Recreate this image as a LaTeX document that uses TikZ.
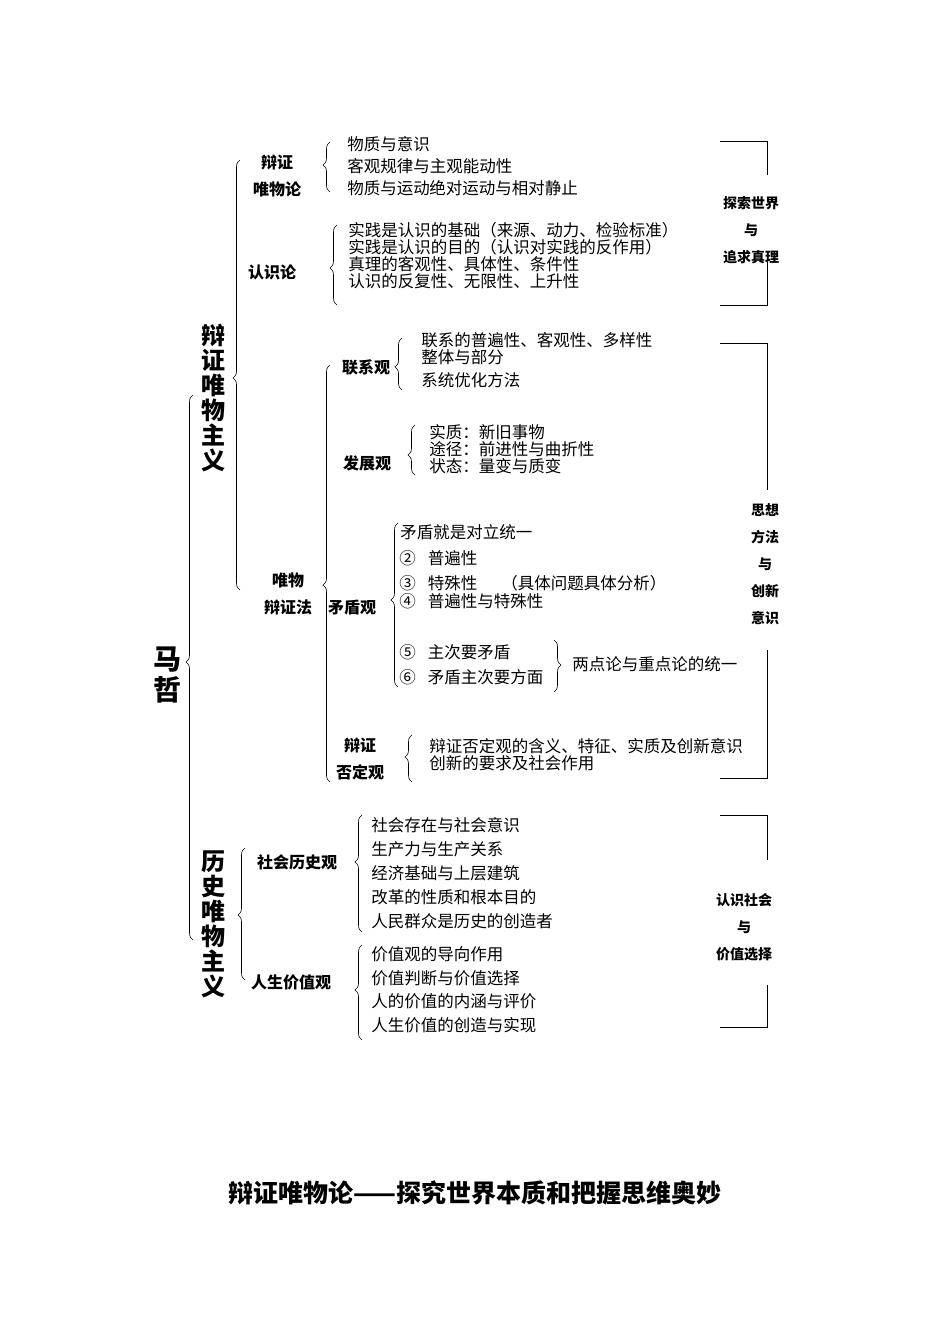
\documentclass[tikz,border=0pt]{standalone}
\usepackage{fontspec}
\setmainfont{Noto Sans CJK SC}
\usetikzlibrary{decorations.pathreplacing}
\newcommand{\LB}[4]{% x, top, bottom, tip
  \pgfmathsetmacro{\asp}{(#3-#4)/(#3-#2)}
  \draw[decorate,decoration={brace,amplitude=7pt,aspect=\asp}] (#1,#3) -- (#1,#2);}
\newcommand{\RB}[4]{%
  \pgfmathsetmacro{\asp}{(#4-#2)/(#3-#2)}
  \draw[decorate,decoration={brace,amplitude=7pt,aspect=\asp}] (#1,#2) -- (#1,#3);}
\tikzset{
 it/.style={anchor=west,inner sep=0pt,font=\fontsize{16.5}{17}\selectfont},
 hd/.style={inner sep=0pt,align=center,font=\fontsize{16}{27}\selectfont\bfseries},
 big/.style={inner sep=0pt,align=center,font=\fontsize{24}{25}\selectfont\bfseries},
 side/.style={inner sep=0pt,align=center,font=\fontsize{14}{27}\selectfont\bfseries},
 br/.style={line width=0.9pt}
}
\begin{document}
\begin{tikzpicture}[x=1pt,y=-1pt,line width=0.6pt]
\useasboundingbox (0,0) rectangle (950,1344);
\node[font=\fontsize{28}{31}\selectfont\bfseries,align=center,inner sep=0pt] (mz) at (167,675) {马\\哲};
\LB{193}{395}{940}{662}
\node[big] (bz) at (213,398) {辩\\证\\唯\\物\\主\\义};
\LB{240}{160}{590}{378}
\node[big] (ls) at (213,924) {历\\史\\唯\\物\\主\\义};
\LB{245}{848}{980}{915}
% 辩证唯物论
\node[hd] (bzw) at (277,176) {辩证\\唯物论};
\LB{330}{142}{192}{165}
\node[it] (a1) at (347,144) {物质与意识};
\node[it] (a2) at (347,166) {客观规律与主观能动性};
\node[it] (a3) at (347,188) {物质与运动};
\node[it] (a4) at (429,188) {绝对运动与相对静止};
% 认识论
\node[hd] (rsl) at (272,272) {认识论};
\LB{337}{225}{305}{268}
\node[it] (b1) at (348,230) {实践是认识的基础（来源、动力、检验标准）};
\node[it] (b2) at (348,247) {实践是认识的目的（认识对实践的反作用）};
\node[it] (b3) at (348,264) {真理的客观性、具体性、条件性};
\node[it] (b4) at (348,281) {认识的反复性、无限性、上升性};
% 唯物辩证法
\node[hd] (wbf) at (288,594) {唯物\\辩证法};
\LB{330}{365}{782}{585}
\node[hd] (lxg) at (366,367) {联系观};
\LB{402}{338}{390}{367}
\node[it] (c1) at (421,340) {联系的普遍性、客观性、多样性};
\node[it] (c2) at (421,357) {整体与部分};
\node[it] (c3) at (421,380) {系统优化方法};
\node[hd] (fzg) at (367,463) {发展观};
\LB{415}{425}{475}{455}
\node[it] (d1) at (429,432) {实质：新旧事物};
\node[it] (d2) at (429,449) {途径：前进性与曲折性};
\node[it] (d3) at (429,466) {状态：量变与质变};
\node[hd] (mdg) at (352,608) {矛盾观};
\LB{398}{523}{687}{600}
\node[it] (e1) at (400,532) {矛盾就是对立统一};
\node[it] (e2) at (399,558) {②\hspace{12pt}普遍性};
\node[it] (e3) at (399,583) {③\hspace{12pt}特殊性\hspace{24pt}（具体问题具体分析）};
\node[it] (e4) at (399,601) {④\hspace{12pt}普遍性与特殊性};
\node[it] (e5) at (399,652) {⑤\hspace{12pt}主次要矛盾};
\node[it] (e6) at (399,677) {⑥\hspace{12pt}矛盾主次要方面};
\RB{554}{640}{692}{665}
\node[it] (e7) at (572,664) {两点论与重点论的统一};
\node[hd] (bfd) at (360,759) {辩证\\否定观};
\LB{412}{735}{782}{757}
\node[it] (f1) at (429,746) {辩证否定观的含义、特征、实质及创新意识};
\node[it] (f2) at (429,763) {创新的要求及社会作用};
% 历史唯物主义
\node[hd] (shl) at (297,862) {社会历史观};
\LB{362}{815}{932}{862}
\node[it] (g1) at (371,825) {社会存在与社会意识};
\node[it] (g2) at (371,849) {生产力与生产关系};
\node[it] (g3) at (371,873) {经济基础与上层建筑};
\node[it] (g4) at (371,897) {改革的性质和根本目的};
\node[it] (g5) at (371,921) {人民群众是历史的创造者};
\node[hd] (rsj) at (291,982) {人生价值观};
\LB{362}{945}{1040}{990}
\node[it] (h1) at (371,954) {价值观的导向作用};
\node[it] (h2) at (371,978) {价值判断与价值选择};
\node[it] (h3) at (371,1001) {人的价值的内涵与评价};
\node[it] (h4) at (371,1025) {人生价值的创造与实现};
% right brackets
\node[side] (s1) at (751,230) {探索世界\\与\\追求真理};
\draw[br] (720,141) -| (767,175);
\draw[br] (767,258) |- (720,305);
\node[side] (s2) at (765,564) {思想\\方法\\与\\创新\\意识};
\draw[br] (720,343) -| (767,490);
\draw[br] (767,650) |- (720,778);
\node[side] (s3) at (744,927) {认识社会\\与\\价值选择};
\draw[br] (720,815) -| (767,860);
\draw[br] (767,985) |- (720,1027);
\node[inner sep=0pt,font=\fontsize{25}{28}\selectfont\bfseries] (title) at (475,1193) {辩证唯物论——探究世界本质和把握思维奥妙};
\end{tikzpicture}
\end{document}
